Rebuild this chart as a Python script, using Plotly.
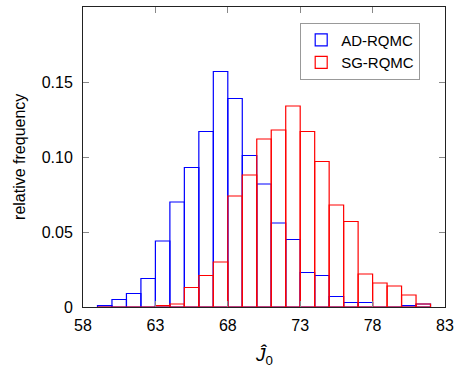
import plotly.graph_objects as go

# bin left edges (bin width 1)
bin_left = list(range(59, 82))
ad_rqmc = [0.001, 0.005, 0.009, 0.019, 0.044, 0.070, 0.093, 0.117, 0.157, 0.139, 0.101, 0.082,
           0.056, 0.045, 0.023, 0.021, 0.007, 0.003, 0.003, 0.0, 0.0, 0.001, 0.002]
sg_rqmc = [0.0, 0.0, 0.0, 0.0, 0.001, 0.002, 0.013, 0.021, 0.030, 0.074, 0.088, 0.112,
           0.118, 0.134, 0.117, 0.097, 0.068, 0.057, 0.022, 0.016, 0.014, 0.008, 0.002]
x_ticks = [58, 63, 68, 73, 78, 83]
y_ticks = [0, 0.05, 0.10, 0.15]
y_ticktext = ["0", "0.05", "0.10", "0.15"]

FONT = "Liberation Sans"
centers = [b + 0.5 for b in bin_left]

fig = go.Figure()
fig.add_trace(go.Bar(x=centers, y=ad_rqmc, width=1, name="AD-RQMC",
                     marker=dict(color="rgba(0,0,0,0)", line=dict(color="blue", width=1.2))))
fig.add_trace(go.Bar(x=centers, y=sg_rqmc, width=1, name="SG-RQMC",
                     marker=dict(color="rgba(0,0,0,0)", line=dict(color="red", width=1.2))))

fig.update_layout(
    width=456, height=368,
    margin=dict(l=83, r=11, t=7, b=61, autoexpand=False),
    barmode="overlay",
    plot_bgcolor="white", paper_bgcolor="white",
    font=dict(family=FONT, size=16, color="black"),
    legend=dict(x=0.60, y=0.948, xanchor="left", yanchor="top",
                bordercolor="#999", borderwidth=1, bgcolor="white",
                font=dict(size=15), tracegroupgap=0, itemwidth=30),
    showlegend=True,
    annotations=[
        dict(text="<i>Ĵ</i><sub>0</sub>", xref="paper", yref="paper", x=0.5, y=-0.163,
             xanchor="center", yanchor="middle", showarrow=False, font=dict(size=19)),
        dict(text="relative frequency", xref="paper", yref="paper", x=-0.177, y=0.5,
             xanchor="center", yanchor="middle", showarrow=False, textangle=-90,
             font=dict(size=16)),
    ],
)
fig.update_xaxes(range=[58, 83], tickvals=x_ticks, ticks="inside", ticklen=6,
                 tickcolor="#888", showline=True, linecolor="#222", linewidth=1,
                 mirror="ticks", showgrid=False, zeroline=False, automargin=False,
                 ticklabelstandoff=4)
fig.update_yaxes(range=[0, 0.2], tickvals=y_ticks, ticktext=y_ticktext, ticks="inside",
                 ticklen=6, tickcolor="#888", showline=True, linecolor="#222", linewidth=1,
                 mirror="ticks", showgrid=False, zeroline=False, automargin=False,
                 ticklabelstandoff=6)

fig.write_html("out.html", config={"displayModeBar": False},
               post_script="document.body.style.margin='0';document.body.style.overflow='hidden';")
